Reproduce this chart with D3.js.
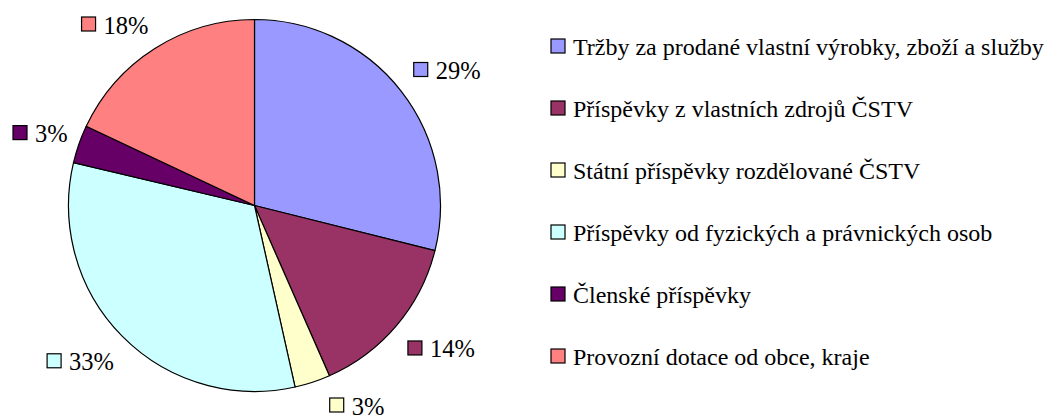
<!DOCTYPE html>
<html>
<head>
<meta charset="utf-8">
<script src="https://cdn.jsdelivr.net/npm/d3@7"></script>
<style>
  html, body { margin: 0; padding: 0; background: #fff; }
  svg { display: block; }
</style>
</head>
<body>
<svg id="chart" width="1045" height="419"></svg>
<script>
const categories = [
  "Tržby za prodané vlastní výrobky, zboží a služby",
  "Příspěvky z vlastních zdrojů ČSTV",
  "Státní příspěvky rozdělované ČSTV",
  "Příspěvky od fyzických a právnických osob",
  "Členské příspěvky",
  "Provozní dotace od obce, kraje"
];
const values = [28.9, 14.5, 3.1, 32.2, 3.3, 18.0];
const labels = ["29%", "14%", "3%", "33%", "3%", "18%"];
const colors = ["#9999ff", "#993366", "#ffffcc", "#ccffff", "#660066", "#ff8080"];

const FONT = "'Liberation Serif', 'Times New Roman', serif";
const svg = d3.select("#chart");
const cx = 254.5, cy = 205.5, r = 186;

const pie = d3.pie().sort(null).value(d => d).startAngle(0).endAngle(2 * Math.PI);
const arcs = pie(values);
const arc = d3.arc().innerRadius(0).outerRadius(r);
const R = r + 25;

const g = svg.append("g").attr("transform", `translate(${cx},${cy})`);
g.selectAll("path.slice").data(arcs).enter().append("path")
  .attr("class", "slice")
  .attr("d", arc)
  .attr("fill", (d, i) => colors[i])
  .attr("stroke", "#000")
  .attr("stroke-width", 1.2)
  .attr("stroke-linejoin", "round");

// data labels (Excel-like "outside end" placement, kept inside the plot area)
const box = 14, gap = 8, lh = 20;
const yMin = 24 - cy, yMax = 405 - cy, xMinEdge = 13 - cx;
const lg = g.selectAll("g.lbl").data(arcs).enter().append("g").attr("class", "lbl");
lg.each(function(d, i) {
  const sel = d3.select(this);
  let a = (d.startAngle + d.endAngle) / 2;
  const t = sel.append("text").text(labels[i])
    .style("font-family", FONT).style("font-size", "24.5px")
    .attr("dominant-baseline", "central");
  const tw = t.node().getComputedTextLength();
  const w = box + gap + tw;
  let y = -(R + lh / 2) * Math.cos(a);
  if (y < yMin || y > yMax) {
    y = Math.max(Math.min(y, yMax), yMin);
    const c = -y / (R + lh / 2);
    const s = Math.sign(Math.sin(a)) || 1;
    a = Math.atan2(s * Math.sqrt(1 - c * c), c);
  }
  let x = (R + w / 2) * Math.sin(a);
  let x0 = Math.max(x - w / 2, xMinEdge);
  sel.append("rect")
    .attr("x", x0).attr("y", y - box / 2)
    .attr("width", box).attr("height", box)
    .attr("fill", colors[i]).attr("stroke", "#000").attr("stroke-width", 1.2);
  t.attr("x", x0 + box + gap).attr("y", y + 1);
});

// legend
const legend = svg.append("g").attr("transform", "translate(551,0)");
const ly = d3.scalePoint().domain(categories).range([46, 356]);
const items = legend.selectAll("g.item").data(categories).enter().append("g")
  .attr("class", "item")
  .attr("transform", d => `translate(0,${ly(d)})`);
items.append("rect")
  .attr("x", 0).attr("y", -box / 2).attr("width", box).attr("height", box)
  .attr("fill", (d, i) => colors[i]).attr("stroke", "#000").attr("stroke-width", 1.2);
items.append("text")
  .attr("x", 22).attr("y", 1)
  .style("font-family", FONT).style("font-size", "24px")
  .attr("dominant-baseline", "central")
  .text(d => d);
</script>
</body>
</html>
